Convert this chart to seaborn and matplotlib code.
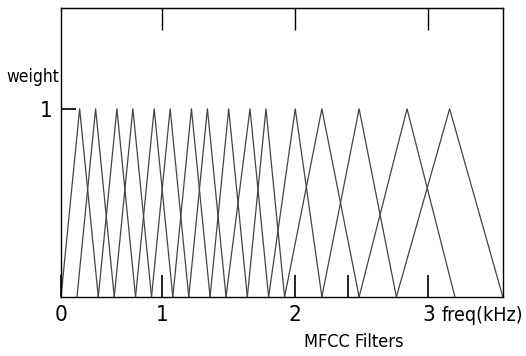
import matplotlib
matplotlib.use('Agg')
import matplotlib.pyplot as plt
import pandas as pd
import seaborn as sns

# MFCC triangular filters (kHz)
edges = [0.24, 0.36, 0.52, 0.64, 0.80, 0.92, 1.08, 1.20, 1.36, 1.48,
         1.64, 1.80, 1.92, 2.20, 2.48, 2.76, 3.20, 3.56]
centers = [0.38, 0.50, 0.66, 0.78, 0.94, 1.06, 1.22, 1.34, 1.50, 1.66,
           1.78, 2.00, 2.20, 2.48, 2.84, 3.16]
tick_pos = [0.24, 1, 2, 2.4, 3]
tick_labels = ['0', '1', '2', '', '3']

# tabla larga: un triángulo por filtro
rows = []
for i, c in enumerate(centers):
    rows.append((i, 0, edges[i], 0.0))
    rows.append((i, 1, c, 1.0))
    rows.append((i, 2, edges[i + 2], 0.0))
df = pd.DataFrame(rows, columns=['filtro', 'orden', 'freq', 'peso'])

sns.set_style('white')
plt.rcParams['font.family'] = ['DejaVu Sans']
plt.rcParams['font.stretch'] = 'condensed'
plt.rcParams['text.color'] = 'black'
plt.rcParams['xtick.color'] = 'black'
plt.rcParams['ytick.color'] = 'black'

fig = plt.figure(figsize=(5.26, 3.56), dpi=100)
ax = fig.add_axes([0.116, 0.166, 0.840, 0.812])

sns.lineplot(data=df, x='freq', y='peso', units='filtro', estimator=None,
             sort=False, color='#444444', linewidth=0.9, ax=ax)

ax.set_xlim(edges[0], edges[-1])
ax.set_ylim(0, 1.537)
ax.set_xlabel('')
ax.set_ylabel('')

for s in ax.spines.values():
    s.set_color('black')
    s.set_linewidth(1.0)

ax.set_xticks(tick_pos)
ax.set_xticklabels(tick_labels, fontsize=16)
ax.set_yticks([1])
ax.set_yticklabels(['1'], fontsize=16)
ax.tick_params(axis='x', direction='in', length=16, width=1.2, pad=6, bottom=True)
ax.tick_params(axis='y', direction='in', length=11, width=1.2, pad=6, left=True)

top = ax.secondary_xaxis('top')
top.set_xticks([1, 2, 3])
top.set_xticklabels([])
top.tick_params(direction='in', length=16, width=1.0)

fig.text(0.013, 0.785, 'weight', fontsize=12.5, ha='left', va='center')
fig.text(0.995, 0.115, 'freq(kHz)', fontsize=14, ha='right', va='center')
fig.text(0.672, 0.04, 'MFCC Filters', fontsize=13, ha='center', va='center')

fig.savefig('out.png', dpi=100)
